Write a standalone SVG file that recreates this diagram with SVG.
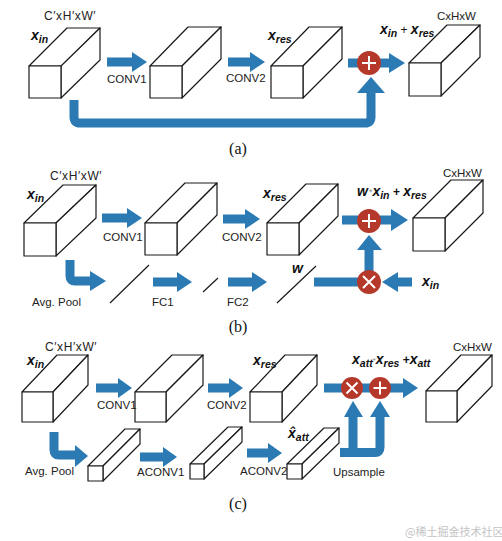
<svg xmlns="http://www.w3.org/2000/svg" width="502" height="541" viewBox="0 0 502 541">
<defs>
<style>
.bx{fill:#fff;stroke:#1a1a1a;stroke-width:1.2;stroke-linejoin:round}
.ar{fill:#2b7ab3}
.sh{fill:none;stroke:#2b7ab3;stroke-width:9}
.op{fill:#b5392a}
.os{stroke:#fff;stroke-width:2;fill:none}
.t{font-family:"Liberation Sans",Arial,sans-serif;font-size:11.5px;fill:#222}
.dim{font-family:"Liberation Sans",Arial,sans-serif;font-size:12px;fill:#222;letter-spacing:0.6px}
.v{font-family:"Liberation Sans",Arial,sans-serif;font-size:14px;font-weight:bold;font-style:italic;fill:#111}
.s{font-size:10.5px}
.cap{font-family:"Liberation Serif","Times New Roman",serif;font-size:16px;fill:#111}
.sl{stroke:#1a1a1a;stroke-width:1.2}
.wm{font-family:"Noto Sans CJK SC",sans-serif;font-size:11px;fill:#c4c4c4}
</style>
</defs>
<rect width="502" height="541" fill="#fff"/>

<!-- connectors -->
<g id="connectors">
  <!-- (a) -->
  <path class="ar" d="M107 57.5H132V52L147 62L132 72V66.5H107Z"/>
  <path class="ar" d="M228 57.5H250V52L265 62L250 72V66.5H228Z"/>
  <rect class="ar" x="348" y="58.5" width="21" height="9"/>
  <path class="ar" d="M369 58.5H389V53L405 63L389 73V67.5H369Z"/>
  <path class="sh" d="M74 100V117Q74 123 80 123H365Q371 123 371 117V92"/>
  <path class="ar" d="M357 93H385L371 77Z"/>
  <!-- (b) -->
  <path class="ar" d="M102 213.5H127V208L142 218L127 228V222.5H102Z"/>
  <path class="ar" d="M223 214.5H245V209L260 219L245 229V223.5H223Z"/>
  <path class="sh" d="M70 260V276Q70 281 75 281H92"/>
  <path class="ar" d="M90 271L106 281L90 291Z"/>
  <path class="ar" d="M153 277.5H177V272L192 282L177 292V286.5H153Z"/>
  <path class="ar" d="M228 277.5H252V272L267 282L252 292V286.5H228Z"/>
  <rect class="ar" x="314" y="277.5" width="55" height="9"/>
  <rect class="ar" x="364.5" y="249" width="9" height="33"/>
  <path class="ar" d="M357 250H382L369 235Z"/>
  <rect class="ar" x="342" y="215.5" width="27" height="9"/>
  <path class="ar" d="M369 215.5H391V209L408 220L391 231V224.5H369Z"/>
  <path class="ar" d="M412 277.5H398V272L382 282L398 292V286.5H412Z"/>
  <!-- (c) -->
  <path class="ar" d="M96 383.5H118V378L132 388L118 398V392.5H96Z"/>
  <path class="ar" d="M208 383.5H229V378L243 388L229 398V392.5H208Z"/>
  <rect class="ar" x="324" y="383.5" width="60" height="9"/>
  <path class="ar" d="M380 383.5H403V378L418 388L403 398V392.5H380Z"/>
  <path class="sh" d="M54 432V450Q54 455 59 455H77"/>
  <path class="ar" d="M75 445L88 456L75 467Z"/>
  <path class="ar" d="M140 452.5H163V447L177 457L163 467V461.5H140Z"/>
  <path class="ar" d="M247 448.5H268V443L282 453L268 463V457.5H247Z"/>
  <path class="sh" d="M340 452.5H375Q380 452.5 380 447.5V416"/>
  <rect class="ar" x="348.5" y="414" width="9" height="38"/>
  <path class="ar" d="M344 417H363L353 401Z"/>
  <path class="ar" d="M370 417H390L380 401Z"/>
</g>

<!-- operators -->
<g id="op-a-add"><circle class="op" cx="369" cy="63" r="12"/><path class="os" d="M362 63H376M369 56V70"/></g>
<g id="op-b-add"><circle class="op" cx="369" cy="221" r="12"/><path class="os" d="M362 221H376M369 214V228"/></g>
<g id="op-b-mul"><circle class="op" cx="369" cy="282" r="12"/><path class="os" d="M363 276L375 288M375 276L363 288"/></g>
<g id="op-c-mul"><circle class="op" cx="352" cy="388" r="11"/><path class="os" d="M346.5 382.5L357.5 393.5M357.5 382.5L346.5 393.5"/></g>
<g id="op-c-add"><circle class="op" cx="380" cy="388" r="11"/><path class="os" d="M373.5 388H386.5M380 381.5V394.5"/></g>

<!-- boxes (a) -->
<g id="a-box1"><path class="bx" d="M29 66L67 28H100L62 66Z"/><path class="bx" d="M61 66L100 28V60L61 98Z"/><rect class="bx" x="29" y="66" width="32" height="32"/></g>
<g id="a-box2"><path class="bx" d="M150 66L188 27H221L182 66Z"/><path class="bx" d="M182 66L221 27V59L182 98Z"/><rect class="bx" x="150" y="66" width="32" height="32"/></g>
<g id="a-box3"><path class="bx" d="M271 66L309 27H342L303 66Z"/><path class="bx" d="M303 66L342 27V59L303 98Z"/><rect class="bx" x="271" y="66" width="32" height="32"/></g>
<g id="a-box4"><path class="bx" d="M409 63L447 25H480L441 63Z"/><path class="bx" d="M441 63L480 25V57L441 96Z"/><rect class="bx" x="409" y="63" width="32" height="33"/></g>

<!-- boxes (b) -->
<g id="b-box1"><path class="bx" d="M24 223L63 185H96L56 223Z"/><path class="bx" d="M56 223L96 185V218L56 256Z"/><rect class="bx" x="24" y="223" width="32" height="33"/></g>
<g id="b-box2"><path class="bx" d="M145 223L185 183H217L177 223Z"/><path class="bx" d="M177 223L217 183V215L177 255Z"/><rect class="bx" x="145" y="223" width="32" height="32"/></g>
<g id="b-box3"><path class="bx" d="M267 223L306 184H338L299 223Z"/><path class="bx" d="M299 223L338 184V216L299 255Z"/><rect class="bx" x="267" y="223" width="32" height="32"/></g>
<g id="b-box4"><path class="bx" d="M413 218L451 180H483L445 218Z"/><path class="bx" d="M445 218L483 180V213L445 251Z"/><rect class="bx" x="413" y="218" width="32" height="33"/></g>

<!-- FC slashes (b) -->
<g id="b-pool"><line class="sl" x1="110" y1="303" x2="149" y2="265"/></g>
<g id="b-fc1"><line class="sl" x1="203" y1="292" x2="218" y2="278"/></g>
<g id="b-fc2"><line class="sl" x1="277" y1="303" x2="316" y2="266"/></g>

<!-- boxes (c) -->
<g id="c-box1"><path class="bx" d="M22 392L57 355H88L53 392Z"/><path class="bx" d="M53 392L88 355V385L53 422Z"/><rect class="bx" x="22" y="392" width="31" height="30"/></g>
<g id="c-box2"><path class="bx" d="M135 392L172 355H203L166 392Z"/><path class="bx" d="M166 392L203 355V385L166 422Z"/><rect class="bx" x="135" y="392" width="31" height="30"/></g>
<g id="c-box3"><path class="bx" d="M250 392L285 355H317L282 392Z"/><path class="bx" d="M282 392L317 355V385L282 422Z"/><rect class="bx" x="250" y="392" width="32" height="30"/></g>
<g id="c-box4"><path class="bx" d="M426 391L461 355H492L457 391Z"/><path class="bx" d="M457 391L492 355V386L457 422Z"/><rect class="bx" x="426" y="391" width="31" height="31"/></g>
<g id="c-sbox1"><path class="bx" d="M88 466L125 429H140L103 466Z"/><path class="bx" d="M103 466L140 429V444L103 481Z"/><rect class="bx" x="88" y="466" width="15" height="15"/></g>
<g id="c-sbox2"><path class="bx" d="M190 464L228 427H242L204 464Z"/><path class="bx" d="M204 464L242 427V442L204 479Z"/><rect class="bx" x="190" y="464" width="14" height="15"/></g>
<g id="c-sbox3"><path class="bx" d="M287 464L324 428H339L302 464Z"/><path class="bx" d="M302 464L339 428V443L302 479Z"/><rect class="bx" x="287" y="464" width="15" height="15"/></g>

<!-- texts (a) -->
<g id="labels-a">
<text class="dim" x="44" y="20">C′xH′xW′</text>
<text class="v" x="31" y="40">x<tspan class="s" dy="3">in</tspan></text>
<text class="t" x="107" y="83">CONV1</text>
<text class="t" x="226" y="82">CONV2</text>
<text class="v" x="268" y="40">x<tspan class="s" dy="3">res</tspan></text>
<text class="v" x="380" y="34">x<tspan class="s" dy="3">in</tspan><tspan dy="-3" font-size="12" font-style="normal" font-weight="normal"> + </tspan>x<tspan class="s" dy="3">res</tspan></text>
<text class="t" x="437" y="20" font-size="12">CxHxW</text>
<text class="cap" x="238" y="154" text-anchor="middle">(a)</text>
</g>

<!-- texts (b) -->
<g id="labels-b">
<text class="dim" x="50" y="180">C′xH′xW′</text>
<text class="v" x="27" y="199">x<tspan class="s" dy="3">in</tspan></text>
<text class="t" x="103" y="241">CONV1</text>
<text class="t" x="222" y="241">CONV2</text>
<text class="v" x="263" y="198">x<tspan class="s" dy="3">res</tspan></text>
<text class="v" x="357" y="196" font-size="12">w<tspan font-size="9" fill="#888" font-weight="normal" font-style="normal" dx="1" dy="-1">*</tspan><tspan font-size="14" dy="1">x</tspan><tspan class="s" dy="3">in</tspan><tspan dy="-3" font-size="12" font-style="normal"> + </tspan><tspan font-size="14">x</tspan><tspan class="s" dy="3">res</tspan></text>
<text class="t" x="443" y="177" font-size="12">CxHxW</text>
<text class="t" x="32" y="306">Avg. Pool</text>
<text class="t" x="152" y="306">FC1</text>
<text class="t" x="227" y="306">FC2</text>
<text class="v" x="292" y="273" font-size="11">w</text>
<text class="v" x="422" y="286">x<tspan class="s" dy="3">in</tspan></text>
<text class="cap" x="238" y="332" text-anchor="middle">(b)</text>
</g>

<!-- texts (c) -->
<g id="labels-c">
<text class="dim" x="45" y="351">C′xH′xW′</text>
<text class="v" x="27" y="365">x<tspan class="s" dy="3">in</tspan></text>
<text class="t" x="97" y="409">CONV1</text>
<text class="t" x="207" y="409">CONV2</text>
<text class="v" x="253" y="365">x<tspan class="s" dy="3">res</tspan></text>
<text class="v" x="352" y="364">x<tspan class="s" dy="3">att</tspan><tspan font-size="8" fill="#888" font-weight="normal" font-style="normal" dy="-4">*</tspan><tspan dy="1">x</tspan><tspan class="s" dy="3">res</tspan><tspan dy="-3" font-size="12" font-style="normal"> +</tspan>x<tspan class="s" dy="3">att</tspan></text>
<text class="t" x="453" y="351" font-size="12">CxHxW</text>
<text class="t" x="25" y="475">Avg. Pool</text>
<text class="t" x="137" y="476">ACONV1</text>
<text class="t" x="240" y="475">ACONV2</text>
<text class="v" x="288" y="438">x̂<tspan class="s" dy="3">att</tspan></text>
<text class="t" x="333" y="476">Upsample</text>
<text class="cap" x="238" y="509" text-anchor="middle">(c)</text>
</g>

<text class="wm" x="405" y="536">@稀土掘金技术社区</text>
</svg>
